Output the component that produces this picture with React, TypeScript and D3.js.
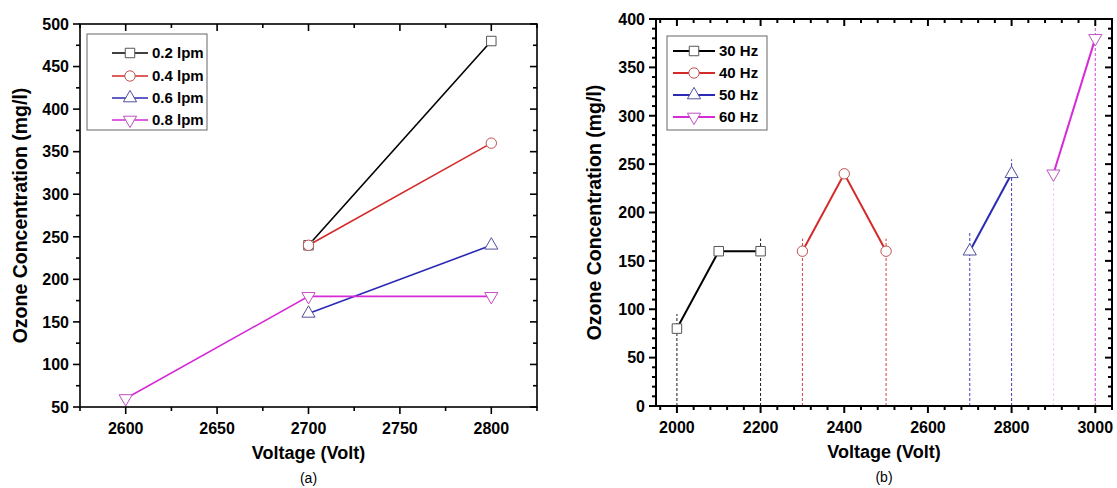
import React from 'react';
import * as d3 from 'd3';

// panel (a): gas flow rate series
const flowNames = ['0.2 lpm', '0.4 lpm', '0.6 lpm', '0.8 lpm'];
const flowVoltages = [
  [2700, 2800],
  [2700, 2800],
  [2700, 2800],
  [2600, 2700, 2800],
];
const flowOzone = [
  [240, 480],
  [240, 360],
  [160, 240],
  [60, 180, 180],
];
const xTicksA = [2600, 2650, 2700, 2750, 2800];
const yTicksA = [50, 100, 150, 200, 250, 300, 350, 400, 450, 500];

// panel (b): frequency series
const freqNames = ['30 Hz', '40 Hz', '50 Hz', '60 Hz'];
const freqVoltages = [
  [2000, 2100, 2200],
  [2300, 2400, 2500],
  [2700, 2800],
  [2900, 3000],
];
const freqOzone = [
  [80, 160, 160],
  [160, 240, 160],
  [160, 240],
  [240, 380],
];
// dashed drop lines: voltage, top value, series index
const dropVoltages = [2000, 2200, 2300, 2500, 2700, 2800, 2900, 3000];
const dropTops = [95, 173, 173, 173, 180, 255, 240, 395];
const dropSeries = [0, 0, 1, 1, 2, 2, 3, 3];
const xTicksB = [2000, 2200, 2400, 2600, 2800, 3000];
const yTicksB = [0, 50, 100, 150, 200, 250, 300, 350, 400];

const colors = ['#000000', '#d42a2a', '#2a2ab4', '#d62ad6'];
const markerColors = ['#555555', '#c05050', '#50509a', '#c050c0'];
const shapes = ['square', 'circle', 'up', 'down'];

const FONT = '"Liberation Sans", Arial, sans-serif';

const markerPath = (shape: string) => {
  if (shape === 'square') return d3.symbol(d3.symbolSquare, 90)();
  if (shape === 'circle') return d3.symbol(d3.symbolCircle, 85)();
  return d3.symbol(d3.symbolTriangle, 75)();
};

const Marker = ({x, y, i}: {x: number; y: number; i: number}) => (
  <path
    d={markerPath(shapes[i]) || ''}
    transform={`translate(${x},${y})${shapes[i] === 'down' ? ' rotate(180)' : ''}`}
    fill="white"
    stroke={markerColors[i]}
    strokeWidth={1}
  />
);

type PanelProps = {
  left: number; right: number; top: number; bottom: number;
  xDomain: [number, number]; yDomain: [number, number];
  xTicks: number[]; yTicks: number[];
  xMinorStep: number; yMinorStep: number;
  names: string[]; xs: number[][]; ys: number[][];
  lineWidth: number; axisWidth: number;
  legend: {x: number; y: number; w: number; h: number; lineX: number; lineW: number; rowY: number[]};
  yTitleX: number; label: string;
  drops?: boolean;
};

const Panel = (p: PanelProps) => {
  const x = d3.scaleLinear().domain(p.xDomain).range([p.left, p.right]);
  const y = d3.scaleLinear().domain(p.yDomain).range([p.bottom, p.top]);
  const xMinor = d3.range(Math.ceil(p.xDomain[0] / p.xMinorStep) * p.xMinorStep, p.xDomain[1] + 0.01, p.xMinorStep)
    .filter(v => !p.xTicks.includes(v));
  const yMinor = d3.range(p.yDomain[0], p.yDomain[1] + 0.01, p.yMinorStep)
    .filter(v => !p.yTicks.includes(v));
  const line = d3.line<[number, number]>().x(d => x(d[0])).y(d => y(d[1]));
  const cx = (p.left + p.right) / 2;
  const cy = (p.top + p.bottom) / 2;
  const major = 7;
  const minor = 4;

  return (
    <g fontFamily={FONT}>
      {p.drops && dropVoltages.map((v, k) => (
        <line
          key={'d' + k}
          x1={x(v)} x2={x(v)} y1={y(0)} y2={y(dropTops[k])}
          stroke={colors[dropSeries[k]]}
          strokeOpacity={v === 2900 ? 0.25 : 0.9}
          strokeWidth={1}
          strokeDasharray="3,2"
        />
      ))}
      {p.names.map((n, i) => (
        <path
          key={n}
          d={line(p.xs[i].map((v, j) => [v, p.ys[i][j]] as [number, number])) || ''}
          fill="none"
          stroke={colors[i]}
          strokeWidth={p.lineWidth}
        />
      ))}
      {p.names.map((n, i) => p.xs[i].map((v, j) => (
        <Marker key={n + j} x={x(v)} y={y(p.ys[i][j])} i={i} />
      )))}

      {/* frame */}
      <rect x={p.left} y={p.top} width={p.right - p.left} height={p.bottom - p.top}
        fill="none" stroke="#000" strokeWidth={p.axisWidth} />

      {/* x ticks: bottom outward, top inward */}
      {p.xTicks.map(v => (
        <g key={'xt' + v}>
          <line x1={x(v)} x2={x(v)} y1={p.bottom} y2={p.bottom + major} stroke="#000" strokeWidth={p.axisWidth} />
          <line x1={x(v)} x2={x(v)} y1={p.top} y2={p.top + major} stroke="#000" strokeWidth={p.axisWidth} />
          <text x={x(v)} y={p.bottom + 27} textAnchor="middle" fontSize={16} fontWeight="bold">{v}</text>
        </g>
      ))}
      {xMinor.map(v => (
        <g key={'xm' + v}>
          <line x1={x(v)} x2={x(v)} y1={p.bottom} y2={p.bottom + minor} stroke="#000" strokeWidth={p.axisWidth} />
          <line x1={x(v)} x2={x(v)} y1={p.top} y2={p.top + minor} stroke="#000" strokeWidth={p.axisWidth} />
        </g>
      ))}

      {/* y ticks: left outward, right inward */}
      {p.yTicks.map(v => (
        <g key={'yt' + v}>
          <line x1={p.left - major} x2={p.left} y1={y(v)} y2={y(v)} stroke="#000" strokeWidth={p.axisWidth} />
          <line x1={p.right - major} x2={p.right} y1={y(v)} y2={y(v)} stroke="#000" strokeWidth={p.axisWidth} />
          <text x={p.left - 11} y={y(v)} dy="0.36em" textAnchor="end" fontSize={16} fontWeight="bold">{v}</text>
        </g>
      ))}
      {yMinor.map(v => (
        <g key={'ym' + v}>
          <line x1={p.left - minor} x2={p.left} y1={y(v)} y2={y(v)} stroke="#000" strokeWidth={p.axisWidth} />
          <line x1={p.right - minor} x2={p.right} y1={y(v)} y2={y(v)} stroke="#000" strokeWidth={p.axisWidth} />
        </g>
      ))}

      <text x={cx} y={p.bottom + 52} textAnchor="middle" fontSize={18} fontWeight="bold">Voltage (Volt)</text>
      <text x={cx} y={p.bottom + 76} textAnchor="middle" fontSize={14}>{p.label}</text>
      <text transform={`translate(${p.yTitleX},${cy}) rotate(-90)`} textAnchor="middle" fontSize={19.5} fontWeight="bold">
        Ozone Concentration (mg/l)
      </text>

      {/* legend */}
      <rect x={p.legend.x} y={p.legend.y} width={p.legend.w} height={p.legend.h}
        fill="white" stroke="#666" strokeWidth={1} />
      {p.names.map((n, i) => {
        const ly = p.legend.rowY[i];
        const lx = p.legend.lineX;
        return (
          <g key={'lg' + n}>
            <line x1={lx} x2={lx + p.legend.lineW} y1={ly} y2={ly} stroke={colors[i]} strokeWidth={p.lineWidth} />
            <Marker x={lx + p.legend.lineW / 2} y={ly} i={i} />
            <text x={lx + p.legend.lineW + 4} y={ly} dy="0.36em" fontSize={15} fontWeight="bold">{n}</text>
          </g>
        );
      })}
    </g>
  );
};

export default function App() {
  return (
    <svg width={1117} height={488} style={{position: 'absolute', left: 0, top: 0, background: 'white'}}>
      <Panel
        left={80} right={537} top={24} bottom={407}
        xDomain={[2575, 2825]} yDomain={[50, 500]}
        xTicks={xTicksA} yTicks={yTicksA}
        xMinorStep={25} yMinorStep={25}
        names={flowNames} xs={flowVoltages} ys={flowOzone}
        lineWidth={1.6} axisWidth={1.6}
        legend={{x: 87, y: 34, w: 120, h: 96, lineX: 112, lineW: 36, rowY: [53, 76, 98, 120]}}
        yTitleX={27} label="(a)"
      />
      <Panel
        left={656} right={1112} top={19} bottom={406}
        xDomain={[1950, 3040]} yDomain={[0, 400]}
        xTicks={xTicksB} yTicks={yTicksB}
        xMinorStep={40} yMinorStep={10}
        names={freqNames} xs={freqVoltages} ys={freqOzone}
        lineWidth={2} axisWidth={2}
        legend={{x: 667, y: 36, w: 100, h: 94, lineX: 673, lineW: 42, rowY: [51, 73, 95, 117]}}
        yTitleX={601} label="(b)"
        drops
      />
    </svg>
  );
}
